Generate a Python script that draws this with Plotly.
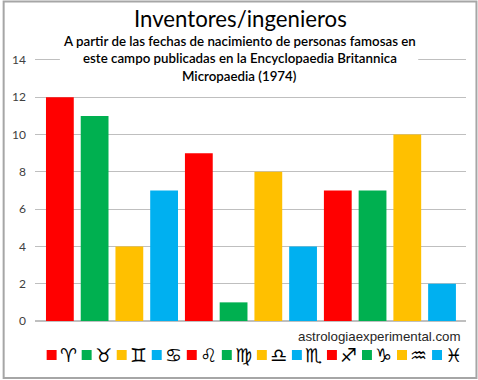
import plotly.graph_objects as go

W, H = 478, 380
ML, MR, MT, MB = 33, 12, 58, 59
signs = ["♈", "♉", "♊", "♋", "♌", "♍", "♎", "♏", "♐", "♑", "♒", "♓"]
values = [12, 11, 4, 7, 9, 1, 8, 4, 7, 7, 10, 2]
palette = ["#FF0000", "#00B050", "#FFC000", "#00B0F0"]
colors = [palette[i % 4] for i in range(12)]
title = "Inventores/ingenieros"
subtitle = ["A partir de las fechas de nacimiento de personas famosas en",
            "este campo publicadas en la Encyclopaedia Britannica",
            "Micropaedia (1974)"]
source = "astrologiaexperimental.com"

fig = go.Figure(go.Bar(x=list(range(12)), y=values, marker_color=colors,
                       marker_line_width=0, width=0.8))

def px(x): return (x - ML) / (W - ML - MR)
def py(y): return 1 - (y - MT) / (H - MT - MB)

shapes = [dict(type="rect", xref="paper", yref="paper", x0=px(1.5), x1=px(W - 1.5), y0=py(1.5), y1=py(H - 2),
               line=dict(color="#A6A6A6", width=2), layer="above"),
          dict(type="rect", xref="paper", yref="paper", x0=px(58), x1=px(418), y0=py(50), y1=py(70),
               fillcolor="white", line_width=0, layer="above")]
annotations = [dict(text=title, x=px(239), y=py(18), xref="paper", yref="paper", showarrow=False,
                    xanchor="center", yanchor="middle",
                    font=dict(family="Lato", size=22.2, color="#000000"))]
for t, yy in zip(subtitle, [41, 58.5, 76]):
    annotations.append(dict(text=t, x=px(238.5), y=py(yy), xref="paper", yref="paper", showarrow=False,
                            xanchor="center", yanchor="middle",
                            font=dict(family="Lato", size=13.3, color="#000000", weight=600)))
annotations.append(dict(text=source, x=px(463), y=py(336), xref="paper", yref="paper", showarrow=False,
                        xanchor="right", yanchor="middle",
                        font=dict(family="Liberation Sans", size=13.3, color="#262626")))
for i, (s, c) in enumerate(zip(signs, colors)):
    cx = 49.7 + i * 35.2
    shapes.append(dict(type="rect", xref="paper", yref="paper", x0=px(cx - 5), x1=px(cx + 5),
                       y0=py(350), y1=py(360), fillcolor=c, line_width=0))
    annotations.append(dict(text=s + "\ufe0e", x=px(cx + 16.5), y=py(355), xref="paper", yref="paper",
                            showarrow=False, xanchor="center", yanchor="middle",
                            font=dict(family="DejaVu Sans", size=19, color="#000000")))

fig.update_layout(
    width=W, height=H, autosize=False,
    margin=dict(l=ML, r=MR, t=MT, b=MB),
    paper_bgcolor="white", plot_bgcolor="white",
    showlegend=False, shapes=shapes, annotations=annotations,
    xaxis=dict(range=[-0.716, 11.69], showticklabels=False, ticks="", showgrid=False,
               zeroline=False, showline=False, fixedrange=True),
    yaxis=dict(range=[0, 14.107], tickvals=list(range(0, 15, 2)), ticks="", showline=False,
               gridcolor="#BFBFBF", gridwidth=1, zeroline=True, zerolinecolor="#BFBFBF",
               tickfont=dict(family="Lato", size=12, color="#404040"), ticklabelstandoff=8),
)
fig.write_html("out.html", config=dict(displayModeBar=False),
               post_script="document.body.style.margin='0';document.documentElement.style.overflow='hidden';")
